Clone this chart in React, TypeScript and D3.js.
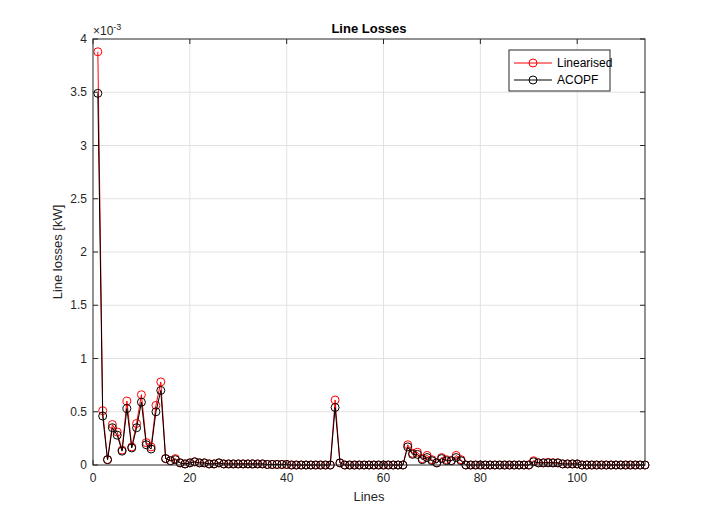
import { useEffect, useRef } from 'react';
import * as d3 from 'd3';

// values in units of 1e-3 kW, lines 1..114
const linearised = [
  3.88, 0.51, 0.05, 0.38, 0.31, 0.14, 0.60, 0.17, 0.39, 0.66,
  0.21, 0.17, 0.56, 0.78, 0.06, 0.04, 0.06, 0.02, 0.01, 0.02,
  0.03, 0.02, 0.02, 0.01, 0.01, 0.02, 0.01, 0.01, 0.01, 0.01,
  0.01, 0.01, 0.01, 0.01, 0.01, 0.005, 0.005, 0.005, 0.005, 0.005,
  0, 0, 0, 0, 0, 0, 0, 0, 0, 0.61,
  0.02, 0, 0, 0, 0, 0, 0, 0, 0, 0,
  0, 0, 0, 0, 0.19, 0.11, 0.12, 0.06, 0.09, 0.05,
  0.02, 0.07, 0.05, 0.04, 0.09, 0.05, 0, 0, 0, 0,
  0, 0, 0, 0, 0, 0, 0, 0, 0, 0,
  0.04, 0.02, 0.02, 0.025, 0.02, 0.02, 0.01, 0.01, 0.01, 0.01,
  0, 0, 0, 0, 0, 0, 0, 0, 0, 0,
  0, 0, 0, 0,
];
const acopf = [
  3.49, 0.46, 0.05, 0.35, 0.28, 0.13, 0.53, 0.16, 0.35, 0.59,
  0.19, 0.15, 0.50, 0.70, 0.06, 0.04, 0.05, 0.02, 0.01, 0.02,
  0.03, 0.02, 0.02, 0.01, 0.01, 0.02, 0.01, 0.01, 0.01, 0.01,
  0.01, 0.01, 0.01, 0.01, 0.01, 0.005, 0.005, 0.005, 0.005, 0.005,
  0, 0, 0, 0, 0, 0, 0, 0, 0, 0.54,
  0.02, 0, 0, 0, 0, 0, 0, 0, 0, 0,
  0, 0, 0, 0, 0.17, 0.10, 0.10, 0.05, 0.07, 0.04,
  0.02, 0.06, 0.04, 0.04, 0.07, 0.04, 0, 0, 0, 0,
  0, 0, 0, 0, 0, 0, 0, 0, 0, 0,
  0.03, 0.02, 0.02, 0.02, 0.02, 0.02, 0.01, 0.01, 0.01, 0.01,
  0, 0, 0, 0, 0, 0, 0, 0, 0, 0,
  0, 0, 0, 0,
];
const xTicks = [0, 20, 40, 60, 80, 100];
const yTicks = [0, 0.5, 1, 1.5, 2, 2.5, 3, 3.5, 4];
const series = [
  { name: 'Linearised', values: linearised, color: '#ff0000' },
  { name: 'ACOPF', values: acopf, color: '#000000' },
];

const W = 713, H = 523;
const m = { left: 93, top: 39, right: 645, bottom: 465 };

export default function App() {
  const ref = useRef<SVGSVGElement>(null);
  useEffect(() => {
    const svg = d3.select(ref.current!);
    svg.selectAll('*').remove();
    const x = d3.scaleLinear().domain([0, 114]).range([m.left, m.right]);
    const y = d3.scaleLinear().domain([0, 4]).range([m.bottom, m.top]);
    const font = 'Helvetica, Arial, "Liberation Sans", sans-serif';

    svg.append('rect').attr('width', W).attr('height', H).attr('fill', '#fff');

    const grid = svg.append('g').attr('stroke', '#e2e2e2').attr('stroke-width', 1);
    xTicks.slice(1).forEach(t => grid.append('line').attr('x1', x(t)).attr('x2', x(t)).attr('y1', m.top).attr('y2', m.bottom));
    yTicks.slice(1, -1).forEach(t => grid.append('line').attr('x1', m.left).attr('x2', m.right).attr('y1', y(t)).attr('y2', y(t)));

    series.forEach(s => {
      const pts = s.values.map((v, i) => [i + 1, v] as [number, number]);
      svg.append('path')
        .attr('d', d3.line<[number, number]>().x(d => x(d[0])).y(d => y(d[1]))(pts)!)
        .attr('fill', 'none').attr('stroke', s.color).attr('stroke-width', 1);
      svg.append('g').selectAll('circle').data(pts).enter().append('circle')
        .attr('cx', d => x(d[0])).attr('cy', d => y(d[1])).attr('r', 4)
        .attr('fill', 'none').attr('stroke', s.color).attr('stroke-width', 1);
    });

    // frame
    svg.append('rect').attr('x', m.left).attr('y', m.top).attr('width', m.right - m.left).attr('height', m.bottom - m.top)
      .attr('fill', 'none').attr('stroke', '#262626').attr('stroke-width', 1);

    const ax = svg.append('g').attr('font-family', font).attr('font-size', 12).attr('fill', '#262626');
    xTicks.forEach(t => {
      ax.append('line').attr('x1', x(t)).attr('x2', x(t)).attr('y1', m.bottom).attr('y2', m.bottom - 5).attr('stroke', '#262626');
      ax.append('line').attr('x1', x(t)).attr('x2', x(t)).attr('y1', m.top).attr('y2', m.top + 5).attr('stroke', '#262626');
      ax.append('text').attr('x', x(t)).attr('y', m.bottom + 17).attr('text-anchor', 'middle').text(t);
    });
    yTicks.forEach(t => {
      ax.append('line').attr('x1', m.left).attr('x2', m.left + 5).attr('y1', y(t)).attr('y2', y(t)).attr('stroke', '#262626');
      ax.append('line').attr('x1', m.right).attr('x2', m.right - 5).attr('y1', y(t)).attr('y2', y(t)).attr('stroke', '#262626');
      ax.append('text').attr('x', m.left - 6).attr('y', y(t) + 4).attr('text-anchor', 'end').text(t);
    });
    const ex = ax.append('text').attr('x', m.left).attr('y', m.top - 4);
    ex.append('tspan').text('×10');
    ex.append('tspan').attr('dy', -5).attr('font-size', 9).text('-3');

    ax.append('text').attr('x', (m.left + m.right) / 2).attr('y', 501).attr('text-anchor', 'middle').attr('font-size', 13).text('Lines');
    ax.append('text').attr('transform', `translate(62,${(m.top + m.bottom) / 2}) rotate(-90)`)
      .attr('text-anchor', 'middle').attr('font-size', 13).text('Line losses [kW]');
    ax.append('text').attr('x', (m.left + m.right) / 2).attr('y', 33).attr('text-anchor', 'middle')
      .attr('font-size', 13).attr('font-weight', 'bold').attr('fill', '#000').text('Line Losses');

    // legend
    const lg = svg.append('g').attr('font-family', font).attr('font-size', 12);
    lg.append('rect').attr('x', 509).attr('y', 50).attr('width', 101).attr('height', 41).attr('fill', '#fff').attr('stroke', '#262626');
    series.forEach((s, i) => {
      const ly = 63 + i * 17;
      lg.append('line').attr('x1', 514).attr('x2', 552).attr('y1', ly).attr('y2', ly).attr('stroke', s.color);
      lg.append('circle').attr('cx', 533).attr('cy', ly).attr('r', 4).attr('fill', 'none').attr('stroke', s.color);
      lg.append('text').attr('x', 557).attr('y', ly + 4).attr('fill', '#000').text(s.name);
    });
  }, []);
  return <svg ref={ref} width={W} height={H} style={{ display: 'block', margin: -8 }} />;
}
